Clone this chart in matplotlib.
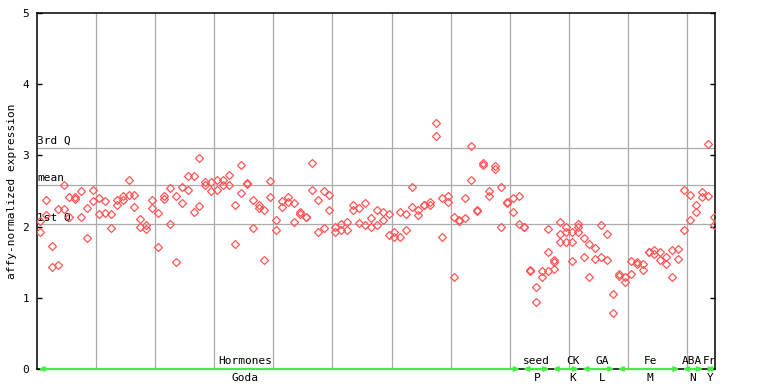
import matplotlib.pyplot as plt

# replicate values per sample (sample index = list position)
values = [
    [2.08, 1.92], [2.37, 2.16], [1.73, 1.43], [2.25, 1.46], [2.58, 2.25],
    [2.42, 2.14], [2.42, 2.39], [2.50, 2.13], [2.26, 1.84], [2.52, 2.36],
    [2.40, 2.17], [2.36, 2.19], [2.17, 1.98], [2.37, 2.31], [2.43, 2.38],
    [2.66, 2.45], [2.44, 2.27], [2.10, 1.99], [2.02, 1.96], [2.37, 2.26],
    [2.19, 1.71], [2.43, 2.39], [2.54, 2.03], [2.43, 1.50], [2.55, 2.33],
    [2.71, 2.52], [2.71, 2.20], [2.96, 2.29], [2.62, 2.58], [2.62, 2.50],
    [2.66, 2.52], [2.65, 2.58], [2.73, 2.58], [2.31, 1.75], [2.86, 2.47],
    [2.61, 2.60], [2.38, 1.98], [2.31, 2.26], [2.23, 1.53], [2.64, 2.41],
    [2.09, 1.95], [2.36, 2.27], [2.41, 2.34], [2.33, 2.07], [2.21, 2.17],
    [2.14, 2.13], [2.90, 2.51], [2.38, 1.92], [2.50, 1.98], [2.44, 2.24],
    [1.99, 1.93], [2.03, 1.95], [2.06, 1.95], [2.30, 2.23], [2.26, 2.05],
    [2.33, 2.02], [2.12, 1.99], [2.24, 2.02], [2.21, 2.09], [2.17, 1.88],
    [1.93, 1.86], [2.21, 1.86], [2.17, 1.95], [2.55, 2.27], [2.24, 2.16],
    [2.31, 2.30], [2.34, 2.30], [3.45, 3.27], [2.40, 1.85], [2.43, 2.34],
    [2.14, 1.29], [2.09, 2.08], [2.40, 2.12], [3.13, 2.65], [2.24, 2.22],
    [2.90, 2.87], [2.50, 2.43], [2.85, 2.81], [2.55, 1.99], [2.35, 2.33],
    [2.40, 2.20], [2.43, 2.03], [2.00, 2.00], [1.39, 1.38], [1.15, 0.94],
    [1.37, 1.29], [1.96, 1.64, 1.37], [1.53, 1.50, 1.41], [2.06, 1.89, 1.78],
    [1.99, 1.92, 1.79], [1.93, 1.78, 1.51], [2.03, 1.99, 1.93], [1.84, 1.57],
    [1.75, 1.29], [1.70, 1.54], [2.02, 1.58], [1.89, 1.53], [1.06, 0.78],
    [1.33, 1.30], [1.29, 1.22], [1.51, 1.33], [1.50, 1.47], [1.48, 1.39],
    [1.65, 1.65], [1.67, 1.61], [1.64, 1.53], [1.57, 1.47], [1.67, 1.29],
    [1.68, 1.54], [2.51, 1.95], [2.45, 2.09], [2.30, 2.20], [2.48, 2.41],
    [3.16, 2.43], [2.13, 2.02],
]

q1, mean, q3 = 2.03, 2.58, 3.10

cat_names = ['Hormones', 'seed', 'CK', 'GA', 'Fe', 'ABA', 'Fr']
cat_sources = ['Goda', 'P', 'K', 'L', 'M', 'N', 'Y']
cat_first = [0, 82, 87, 92, 98, 109, 113]
cat_last = [81, 86, 91, 97, 108, 112, 114]
label_x = [35.2, 84.6, 90.7, 95.6, 103.8, 110.9, 113.9]

n = len(values)
xs, ys = [], []
for i, reps in enumerate(values):
    for v in reps:
        xs.append(i + 0.5)
        ys.append(v)

plt.rcParams['font.family'] = 'DejaVu Sans Mono'
plt.rcParams['font.size'] = 8

fig = plt.figure(figsize=(7.68, 3.84), dpi=100)
ax = fig.add_axes([37 / 768, 15 / 384, 678 / 768, 356 / 384])

xmax = n - 0.25
ax.set_xlim(0, xmax)
ax.set_ylim(0, 5)

for gx in range(10, n, 10):
    ax.axvline(gx, color='#aaaaaa', lw=0.9, zorder=1)
for qy, qname in [(q3, '3rd Q'), (mean, 'mean'), (q1, '1st Q')]:
    ax.axhline(qy, color='#aaaaaa', lw=0.9, zorder=1)
    ax.annotate(qname, (0, qy), xytext=(0, 1.5), textcoords='offset points',
                ha='left', va='bottom', fontsize=8)

ax.plot(xs, ys, ls='none', marker='D', ms=4.2, mfc='none', mec='#ff5555',
        mew=0.9, zorder=3)

for name, src, a, b, lx in zip(cat_names, cat_sources, cat_first, cat_last, label_x):
    ax.annotate('', xy=(b + 1 - 0.2, 0), xytext=(a + 0.2, 0),
                arrowprops=dict(arrowstyle='<->,head_length=0.35,head_width=0.15',
                                color='#44ee44', lw=1.6, shrinkA=0, shrinkB=0),
                annotation_clip=False, zorder=4)
    ax.text(lx, 0.04, name, ha='center', va='bottom', fontsize=8)
    ax.text(lx, -0.05, src, ha='center', va='top', fontsize=8, clip_on=False)

ax.set_yticks(range(6))
ax.set_xticks([])
ax.tick_params(axis='y', direction='in', length=3.6, width=1, pad=5.5,
               right=True, labelright=False, labelsize=8)
for s in ax.spines.values():
    s.set_linewidth(1.1)
ax.set_ylabel('affy-normalized expression', fontsize=8, labelpad=4)

fig.savefig('out.png', dpi=100)
